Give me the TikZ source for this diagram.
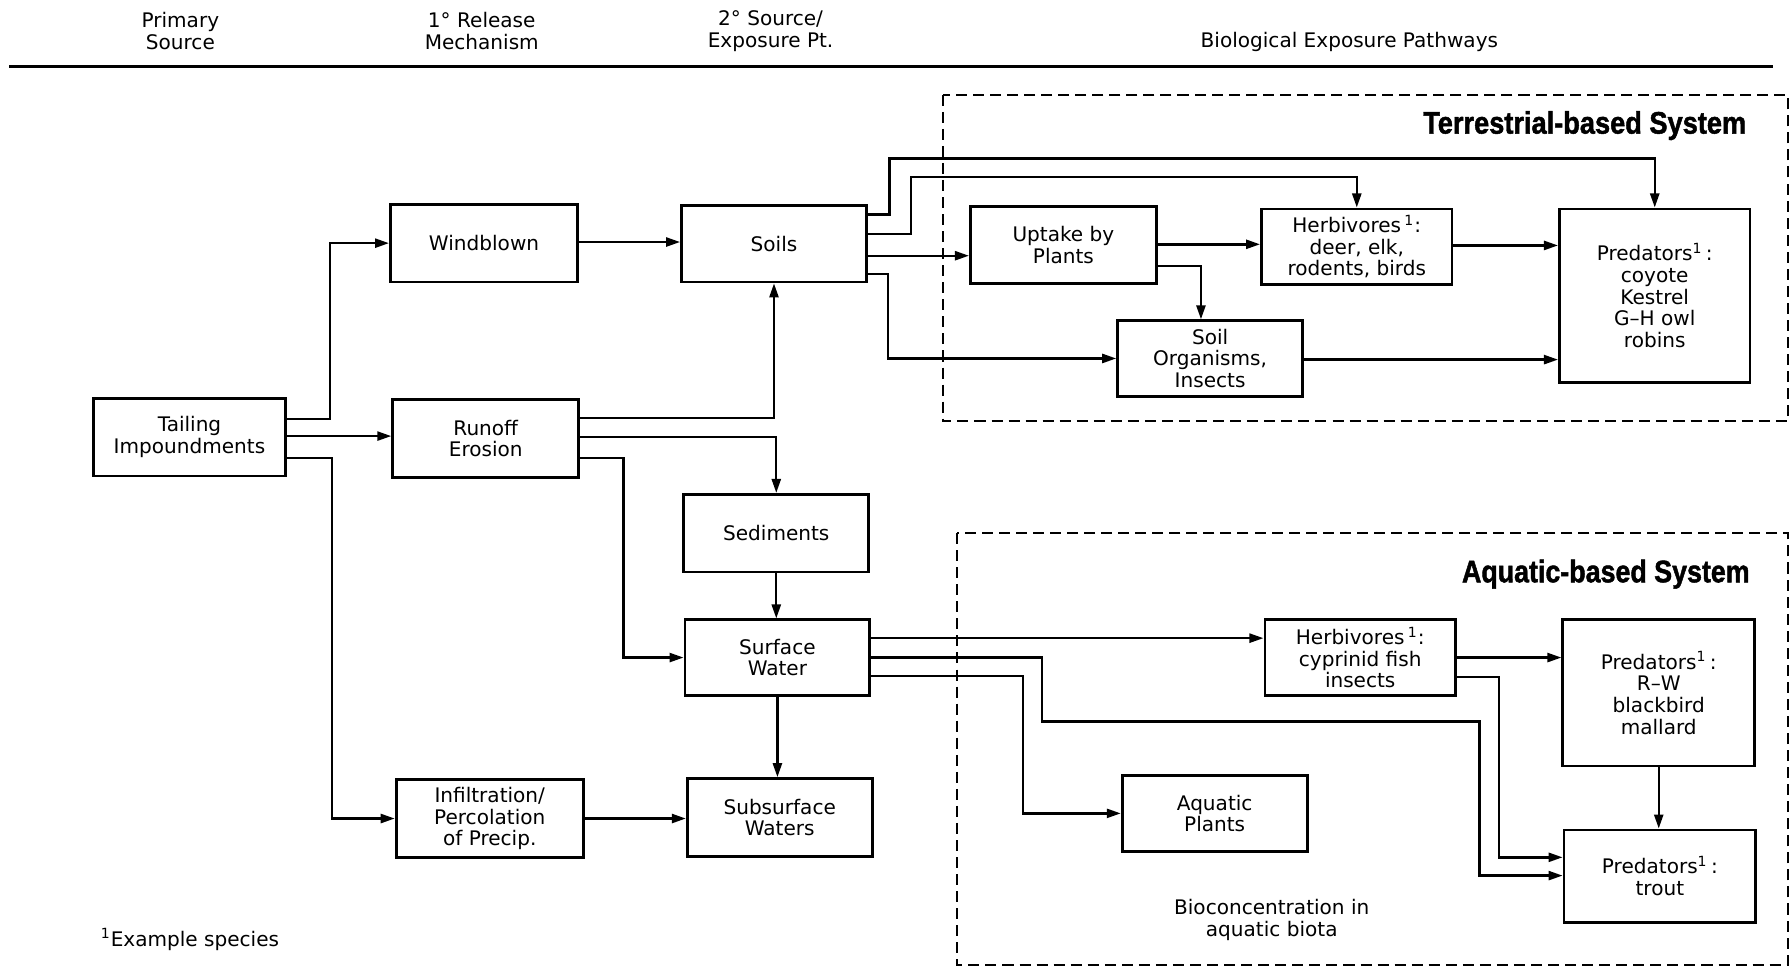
\documentclass[tikz,border=0pt]{standalone}
\usepackage{fontspec}
\usepackage{graphicx}
\setmainfont{DejaVu Sans}
\newfontfamily\titlefont[BoldFeatures={FakeBold=1.6}]{Liberation Sans}
\usetikzlibrary{arrows.meta}
\begin{document}
\begin{tikzpicture}[x=0.02cm,y=-0.02cm,
  every node/.style={font=\fontsize{10}{10.8}\selectfont},
  box/.style={draw, line width=1.4pt, align=center, inner sep=2pt, minimum width=3.26cm, minimum height=1.34cm},
  arr/.style={line width=1.2pt, -{Triangle[length=7pt,width=4.5pt]}},
  dashbox/.style={line width=1.1pt, dash pattern=on 5.5pt off 3pt},
  hdr/.style={align=center, inner sep=0pt},
  systitle/.style={anchor=east, inner sep=0pt, font=\titlefont\bfseries\fontsize{15.5}{16}\selectfont}
]
\useasboundingbox (0,0) rectangle (1568,848);

% headers
\node[hdr] (h1) at (158,27) {Primary\\Source};
\node[hdr] (h2) at (422,27) {1° Release\\Mechanism};
\node[hdr] (h3) at (675,27) {2° Source/\\Exposure Pt.};
\node[hdr] (h4) at (1182,37) {Biological Exposure Pathways};
\draw[line width=1.5pt] (8,58) -- (1553,58);

% system frames
\draw[dashbox] (826,83) rectangle (1566,369);
\draw[dashbox] (838,467) rectangle (1566,845);
\node[systitle] (tt) at (1530,110) {\resizebox{5.66cm}{\height}{Terrestrial-based System}};
\node[systitle] (at) at (1533,503) {\resizebox{5.04cm}{\height}{Aquatic-based System}};

% boxes
\node[box, minimum width=3.36cm, minimum height=1.36cm] (tail) at (166,383) {Tailing\\Impoundments};
\node[box, minimum width=3.28cm, minimum height=1.36cm] (wind) at (424,213) {Windblown};
\node[box, minimum width=3.26cm, minimum height=1.36cm] (run) at (425.5,384) {Runoff\\Erosion};
\node[box, minimum width=3.28cm, minimum height=1.36cm] (inf) at (429,717) {Infiltration/\\Percolation\\of Precip.};
\node[box, minimum width=3.24cm, minimum height=1.34cm] (soils) at (678,213.5) {Soils};
\node[box, minimum width=3.24cm, minimum height=1.36cm] (sed) at (680,467) {Sediments};
\node[box, minimum width=3.24cm, minimum height=1.32cm] (sw) at (681,576) {Surface\\Water};
\node[box, minimum width=3.24cm, minimum height=1.36cm] (sub) at (683,716) {Subsurface\\Waters};
\node[box, minimum width=3.26cm, minimum height=1.34cm] (upt) at (931.5,214.5) {Uptake by\\Plants};
\node[box, minimum width=3.34cm, minimum height=1.32cm] (herbT) at (1188.5,216) {Herbivores\,\textsuperscript{1}:\\deer, elk,\\rodents, birds};
\node[box, minimum width=3.24cm, minimum height=1.32cm] (soilorg) at (1060,314) {Soil\\Organisms,\\Insects};
\node[box, minimum width=3.34cm, minimum height=3.04cm] (predT) at (1449.5,259) {Predators\textsuperscript{1}\,:\\coyote\\Kestrel\\G--H owl\\robins};
\node[box, minimum width=3.34cm, minimum height=1.32cm] (herbA) at (1191.5,576) {Herbivores\,\textsuperscript{1}:\\cyprinid fish\\insects};
\node[box, minimum width=3.36cm, minimum height=2.56cm] (predRW) at (1453,607) {Predators\textsuperscript{1}\,:\\R--W\\blackbird\\mallard};
\node[box, minimum width=3.36cm, minimum height=1.62cm] (trout) at (1454,767.5) {Predators\textsuperscript{1}\,:\\trout};
\node[box, minimum width=3.24cm, minimum height=1.34cm] (aqp) at (1064,712.5) {Aquatic\\Plants};

% texts
\node[hdr] (bio) at (1114,806) {Bioconcentration in\\aquatic biota};
\node[anchor=west, inner sep=0pt] (fn) at (88,823) {\textsuperscript{1}Example species};

% connectors
\draw[arr] (tail.east |- 0,367) -| (289,0 |- wind.west) -- (wind.west);
\draw[arr] (tail.east |- 0,382) -- (run.west |- 0,382);
\draw[arr] (tail.east |- 0,401) -| (291,0 |- inf.west) -- (inf.west);
\draw[arr] (wind.east |- 0,212) -- (soils.west |- 0,212);
\draw[arr] (run.east |- 0,366) -| (soils.south);
\draw[arr] (run.east |- 0,383) -| (sed.north);
\draw[arr] (run.east |- 0,401) -| (546,0 |- sw.west) -- (sw.west);
\draw[arr] (sed.south) -- (sed.south |- sw.north);
\draw[arr] (sw.south) -- (sw.south |- sub.north);
\draw[arr] (inf.east) -- (inf.east -| sub.west);

\draw[arr] (soils.east |- 0,188) -| (779,139) -| (predT.north);
\draw[arr] (soils.east |- 0,205) -| (798,155) -| (herbT.north);
\draw[arr] (soils.east |- 0,224) -- (upt.west |- 0,224);
\draw[arr] (soils.east |- 0,240) -| (778,0 |- soilorg.west) -- (soilorg.west);
\draw[arr] (upt.east |- 0,214) -- (herbT.west |- 0,214);
\draw[arr] (upt.east |- 0,233) -| (soilorg.north -| 1052,0);
\draw[arr] (herbT.east |- 0,215) -- (predT.west |- 0,215);
\draw[arr] (soilorg.east |- 0,315) -- (predT.west |- 0,315);

\draw[arr] (sw.east |- 0,559) -- (herbA.west |- 0,559);
\draw[arr] (sw.east |- 0,576) -| (913,632) -| (1296,767) -- (trout.west |- 0,767);
\draw[arr] (sw.east |- 0,592) -| (896,0 |- aqp.west) -- (aqp.west);
\draw[arr] (herbA.east |- 0,576) -- (predRW.west |- 0,576);
\draw[arr] (herbA.east |- 0,593) -| (1313,751) -- (trout.west |- 0,751);
\draw[arr] (predRW.south) -- (predRW.south |- trout.north);
\end{tikzpicture}
\end{document}
